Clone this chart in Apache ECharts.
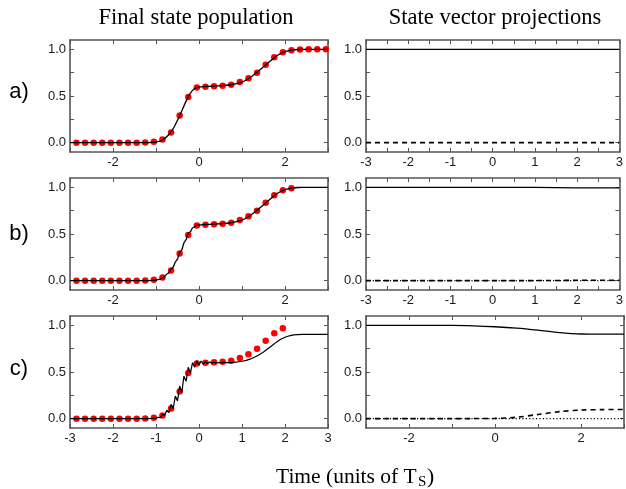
<!DOCTYPE html>
<html lang="en">
<head>
<meta charset="UTF-8">
<title>Final state population / State vector projections</title>
<script src="https://cdn.jsdelivr.net/npm/echarts@6/dist/echarts.min.js"></script>
<style>
  html, body { margin: 0; padding: 0; background: #fff; }
  #chart { width: 626px; height: 489px; }
</style>
</head>
<body>
<div id="chart"></div>
<script>
// ---- data (time in units of T_S) ----
// red dots: adiabatic reference population
var dotTimes = [-2.85, -2.65, -2.45, -2.25, -2.05, -1.85, -1.65, -1.45, -1.25, -1.05,
                -0.85, -0.65, -0.45, -0.25, -0.05, 0.15, 0.35, 0.55, 0.75, 0.95,
                1.15, 1.35, 1.55, 1.75, 1.95, 2.15, 2.35, 2.55, 2.75, 2.95];
var dotsA = [0, 0, 0, 0, 0, 0, 0, 0, 0.002, 0.01,
             0.035, 0.11, 0.29, 0.49, 0.59, 0.60, 0.605, 0.61, 0.62, 0.65,
             0.69, 0.75, 0.835, 0.915, 0.97, 0.99, 0.998, 1.0, 1.0, 1.0];
var dotsB = [0, 0, 0, 0, 0, 0, 0, 0, 0.002, 0.01,
             0.035, 0.11, 0.29, 0.49, 0.59, 0.60, 0.605, 0.61, 0.62, 0.65,
             0.69, 0.75, 0.835, 0.915, 0.97, 0.99];
var dotsC = [0, 0, 0, 0, 0, 0, 0, 0, 0.002, 0.01,
             0.035, 0.11, 0.29, 0.49, 0.59, 0.60, 0.605, 0.61, 0.62, 0.65,
             0.69, 0.75, 0.835, 0.915, 0.97];

// black curves: final state population
var timesA = [-3, -2, -1.2, -1.1, -1.0, -0.9, -0.8, -0.7, -0.6, -0.5, -0.4, -0.3, -0.2, -0.1, 0,
              0.1, 0.2, 0.3, 0.4, 0.5, 0.6, 0.7, 0.8, 0.9, 1.0, 1.1, 1.2, 1.3, 1.4, 1.5,
              1.6, 1.7, 1.8, 1.9, 2.0, 2.1, 2.2, 2.3, 2.4, 2.6, 3];
var popA = [0, 0, 0.001, 0.003, 0.007, 0.018, 0.045, 0.088, 0.15, 0.24, 0.34, 0.445, 0.53, 0.58, 0.594,
            0.6, 0.603, 0.605, 0.607, 0.61, 0.613, 0.618, 0.625, 0.636, 0.65, 0.672, 0.7, 0.735, 0.772, 0.812,
            0.852, 0.892, 0.928, 0.955, 0.975, 0.987, 0.994, 0.998, 1.0, 1.0, 1.0];

var timesB = [-3, -2, -1.2, -1.1, -1.0, -0.9, -0.8, -0.75, -0.7, -0.65, -0.6, -0.55, -0.5, -0.45, -0.4,
              -0.35, -0.3, -0.25, -0.2, -0.15, -0.1, -0.05, 0,
              0.1, 0.2, 0.3, 0.4, 0.5, 0.6, 0.7, 0.8, 0.9, 1.0, 1.1, 1.2, 1.3, 1.4, 1.5,
              1.6, 1.7, 1.8, 1.9, 2.0, 2.1, 2.2, 2.3, 2.4, 2.6, 3];
var popB = [0, 0, 0.001, 0.003, 0.007, 0.018, 0.045, 0.07, 0.085, 0.125, 0.145, 0.2, 0.232, 0.3, 0.33,
            0.405, 0.44, 0.505, 0.525, 0.565, 0.576, 0.593, 0.594,
            0.6, 0.603, 0.605, 0.607, 0.61, 0.613, 0.618, 0.625, 0.636, 0.65, 0.672, 0.7, 0.735, 0.772, 0.812,
            0.852, 0.892, 0.928, 0.955, 0.975, 0.987, 0.994, 0.998, 1.0, 1.0, 1.0];

var timesC = [-3, -2, -1.2, -1.1, -1.0, -0.95, -0.9, -0.85, -0.8, -0.75, -0.7, -0.65, -0.6, -0.55, -0.5,
              -0.45, -0.4, -0.35, -0.3, -0.25, -0.2, -0.15, -0.1, -0.05, 0, 0.05, 0.1, 0.15, 0.2,
              0.25, 0.3, 0.35, 0.4, 0.5, 0.6, 0.7, 0.8, 0.9, 1.0, 1.1, 1.2, 1.3, 1.4, 1.5,
              1.6, 1.7, 1.8, 1.9, 2.0, 2.1, 2.2, 2.3, 2.4, 2.6, 3];
var popC = [0, 0, 0.001, 0.003, 0.006, 0.015, 0.012, 0.045, 0.035, 0.09, 0.065, 0.153, 0.11, 0.242, 0.19,
            0.35, 0.28, 0.455, 0.40, 0.55, 0.49, 0.60, 0.55, 0.62, 0.575, 0.618, 0.585, 0.612, 0.59,
            0.608, 0.595, 0.603, 0.598, 0.60, 0.60, 0.601, 0.604, 0.608, 0.615, 0.625, 0.64, 0.66, 0.685, 0.715,
            0.75, 0.785, 0.82, 0.85, 0.872, 0.888, 0.897, 0.901, 0.903, 0.903, 0.903];

// state vector projections
var projTimes = [-3, -2.5, -2, -1.5, -1, -0.5, 0, 0.5, 1, 1.5, 2, 2.5, 3];
var projA1 = [1, 1, 1, 1, 1, 1, 1, 1, 1, 1, 1, 1, 1];
var projA2 = [0, 0, 0, 0, 0, 0, 0, 0, 0, 0, 0, 0, 0];
var projB1 = [1, 1, 1, 1, 1, 1, 1, 1, 0.999, 0.997, 0.995, 0.995, 0.995];
var projB2 = [0, 0, 0, 0, 0, 0, 0, 0, 0.001, 0.002, 0.004, 0.005, 0.005];
var projB3 = [0, 0, 0, 0, 0, 0, 0, 0, 0, 0, 0, 0, 0];
var projC1 = [1, 1, 1, 1, 1, 0.995, 0.985, 0.97, 0.948, 0.922, 0.907, 0.905, 0.905];
var projC2 = [0, 0, 0, 0, 0, 0.001, 0.003, 0.015, 0.045, 0.075, 0.092, 0.097, 0.098];
var projC3 = [0, 0, 0, 0, 0, 0, 0, 0, 0, 0, 0, 0, 0];

// tick values
var ticksWhole = [-3, -2, -1, 0, 1, 2, 3];
var ticksHalf = [-3, -2.5, -2, -1.5, -1, -0.5, 0, 0.5, 1, 1.5, 2, 2.5, 3];
var labelsEven = [-2, 0, 2];
var labelsAll = [-3, -2, -1, 0, 1, 2, 3];
var yTicks = [0, 0.25, 0.5, 0.75, 1];
var yLabels = [0, 0.5, 1];

// ---- helpers ----
var FRAME = '#555555';
var SANS = '"Liberation Sans", Arial, sans-serif';
var SERIF = '"Liberation Serif", "Times New Roman", serif';

function zip(xs, ys) {
    return ys.map(function (y, i) { return [xs[i], y]; });
}

function xAxes(grid, labels, ticks) {
    var base = {
        type: 'value', gridIndex: grid, min: -3, max: 3,
        axisLine: { show: true, onZero: false, lineStyle: { color: FRAME, width: 1.6 } },
        axisTick: { show: true, inside: true, length: 4, customValues: ticks, lineStyle: { color: FRAME, width: 1 } },
        splitLine: { show: false }
    };
    var bottom = Object.assign({}, base, {
        position: 'bottom',
        axisLabel: { show: true, customValues: labels, margin: 4, color: '#1a1a1a',
                     fontFamily: SANS, fontSize: 13, formatter: function (v) { return String(v); } }
    });
    var top = Object.assign({}, base, { position: 'top', axisLabel: { show: false } });
    return [bottom, top];
}

function yAxes(grid) {
    var base = {
        type: 'value', gridIndex: grid, min: -0.1, max: 1.1,
        axisLine: { show: true, onZero: false, lineStyle: { color: FRAME, width: 1.6 } },
        axisTick: { show: true, inside: true, length: 4, customValues: yTicks, lineStyle: { color: FRAME, width: 1 } },
        splitLine: { show: false }
    };
    var left = Object.assign({}, base, {
        position: 'left',
        axisLabel: { show: true, customValues: yLabels, margin: 4, color: '#1a1a1a',
                     fontFamily: SANS, fontSize: 13, formatter: function (v) { return v.toFixed(1); } }
    });
    var right = Object.assign({}, base, { position: 'right', axisLabel: { show: false } });
    return [left, right];
}

function dots(p, ys) {
    return { type: 'scatter', xAxisIndex: 2 * p, yAxisIndex: 2 * p, data: zip(dotTimes, ys),
             symbol: 'circle', symbolSize: 6.5, itemStyle: { color: '#ff0000', opacity: 1 }, z: 2, silent: true };
}

function curve(p, xs, ys, dash, width) {
    return { type: 'line', xAxisIndex: 2 * p, yAxisIndex: 2 * p, data: zip(xs, ys),
             showSymbol: false, symbol: 'none', z: 3, silent: true,
             lineStyle: { color: '#000', width: width || 1.3, type: dash || 'solid' } };
}

// ---- layout: 3 rows x 2 columns ----
var colLeft = [70, 366];
var rowTop = [40, 178, 316];
var grids = [];
for (var r = 0; r < 3; r++) {
    for (var c = 0; c < 2; c++) {
        grids.push({ left: colLeft[c], top: rowTop[r], width: 258, height: 112 });
    }
}

var xCfg = [
    [labelsEven, ticksWhole], [labelsAll, ticksHalf],
    [labelsEven, ticksWhole], [labelsAll, ticksHalf],
    [labelsAll, ticksWhole], [labelsEven, ticksWhole]
];
var xAxisList = [], yAxisList = [];
for (var p = 0; p < 6; p++) {
    xAxisList = xAxisList.concat(xAxes(p, xCfg[p][0], xCfg[p][1]));
    yAxisList = yAxisList.concat(yAxes(p));
}

var DASH = [5, 4];
var DOT = [1.2, 2.2];

var series = [
    dots(0, dotsA), curve(0, timesA, popA),
    curve(1, projTimes, projA1), curve(1, projTimes, projA2, DASH, 1.6),
    dots(2, dotsB), curve(2, timesB, popB),
    curve(3, projTimes, projB1), curve(3, projTimes, projB2, DASH, 1.6), curve(3, projTimes, projB3, DOT, 1.3),
    dots(4, dotsC), curve(4, timesC, popC, null, 1.2),
    curve(5, projTimes, projC1, null, 1.3), curve(5, projTimes, projC2, DASH, 1.6), curve(5, projTimes, projC3, DOT, 1.3)
];
series[1].smooth = 0.2;
series[5].smooth = 0.2;
series[11].smooth = 0.3;
series[12].smooth = 0.3;

function label(text, x, y, font, align) {
    return { type: 'text', x: x, y: y, silent: true,
             style: { text: text, font: font, fill: '#000', align: align || 'center', verticalAlign: 'middle' } };
}

var myChart = echarts.init(document.getElementById('chart'), null, { renderer: 'canvas' });
myChart.setOption({
    animation: false,
    backgroundColor: '#fff',
    grid: grids,
    xAxis: xAxisList,
    yAxis: yAxisList,
    series: series,
    graphic: [
        label('Final state population', 196, 18, '22.5px ' + SERIF),
        label('State vector projections', 495, 18, '22.5px ' + SERIF),
        label('a)', 19, 92, '22px ' + SANS),
        label('b)', 19, 234, '22px ' + SANS),
        label('c)', 19, 369, '22px ' + SANS),
        label('Time (units of T', 276, 477, '21.5px ' + SERIF, 'left'),
        label('S', 418, 482, '15px ' + SERIF, 'left'),
        label(')', 427, 477, '21.5px ' + SERIF, 'left')
    ]
});
</script>
</body>
</html>
